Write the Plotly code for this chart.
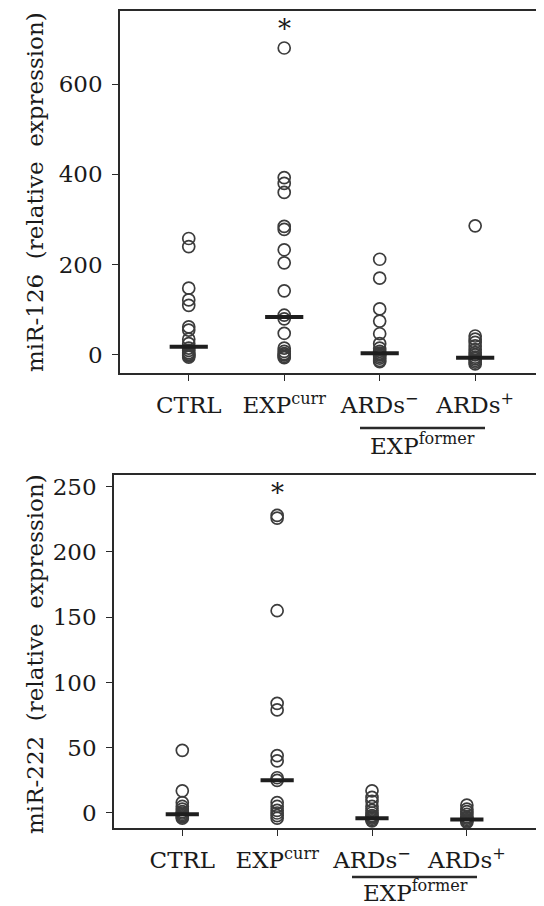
import plotly.graph_objects as go

# ---------------- data ----------------
categories = ["CTRL", "EXP<sup>curr</sup>", "ARDs<sup>−</sup>", "ARDs<sup>+</sup>"]

# miR-126 (top panel)
mir126_ctrl = [258, 240, 148, 122, 110, 62, 55, 35, 25, 15, 10, 5, 2, 0, -2, -5]
mir126_expcurr = [680, 393, 380, 360, 285, 278, 233, 204, 142, 88, 80, 48, 15, 8, 3, 0, -3, -6]
mir126_ards_neg = [212, 170, 102, 75, 47, 25, 15, 8, 4, 2, 0, -3, -7, -12, -15]
mir126_ards_pos = [286, 42, 35, 28, 20, 12, 5, 0, -5, -8, -12, -16, -20]
mir126_medians = [18, 84, 4, -6]
mir126_star = 722

# miR-222 (bottom panel)
mir222_ctrl = [48, 17, 8, 5, 3, 1, 0, -1, -2, -3, -4]
mir222_expcurr = [228, 226, 155, 84, 79, 44, 40, 27, 25, 8, 5, 2, 0, -2, -4]
mir222_ards_neg = [17, 12, 9, 5, 2, 0, -2, -3, -4, -5, -6]
mir222_ards_pos = [6, 3, 1, -1, -3, -4, -5, -6, -7]
mir222_medians = [-1, 25, -4, -5]
mir222_star = 245

mir126_ticks = [0, 200, 400, 600]
mir222_ticks = [0, 50, 100, 150, 200, 250]

# ---------------- styling ----------------
FONT = "DejaVu Serif"
INK = "#2a2a2a"
PT = "#3c3c3c"
W, H = 544, 906
OFF = 8  # default page body margin


def px(x):
    return (x - OFF) / W


def py(y):
    return 1 - (y - OFF) / H


fig = go.Figure()


def add_panel(groups, medians, xa, ya, half):
    for i, vals in enumerate(groups):
        fig.add_trace(go.Scatter(
            x=[i] * len(vals), y=vals, mode="markers",
            marker=dict(symbol="circle-open", size=12, color=PT, line=dict(width=1.7, color=PT)),
            xaxis=xa, yaxis=ya, showlegend=False, hoverinfo="y"))
    mx, my = [], []
    for i, m in enumerate(medians):
        mx += [i - half, i + half, None]
        my += [m, m, None]
    fig.add_trace(go.Scatter(x=mx, y=my, mode="lines", line=dict(color="#1e1e1e", width=4),
                             xaxis=xa, yaxis=ya, showlegend=False, hoverinfo="skip"))


add_panel([mir126_ctrl, mir126_expcurr, mir126_ards_neg, mir126_ards_pos], mir126_medians, "x", "y", 0.2)
add_panel([mir222_ctrl, mir222_expcurr, mir222_ards_neg, mir222_ards_pos], mir222_medians, "x2", "y2", 0.175)

axis_common = dict(showline=True, linecolor=INK, linewidth=1.6, mirror=True, showgrid=False,
                   zeroline=False, ticks="outside", ticklen=6, tickwidth=1.4, tickcolor=INK,
                   tickfont=dict(family=FONT, size=23, color="#1a1a1a"))

fig.update_layout(
    width=W, height=H, margin=dict(l=0, r=0, t=0, b=0),
    paper_bgcolor="white", plot_bgcolor="white",
    xaxis=dict(domain=[px(120), px(542)], range=[-0.72, 3.70], tickmode="array",
               tickvals=list(range(4)), ticktext=categories, anchor="y", ticklabelstandoff=5, **axis_common),
    yaxis=dict(domain=[py(373), py(11)], range=[-40, 762], tickmode="array",
               tickvals=mir126_ticks, anchor="x", ticklabelstandoff=5, **axis_common),
    xaxis2=dict(domain=[px(114), px(538)], range=[-0.72, 3.75], tickmode="array",
                tickvals=list(range(4)), ticktext=categories, anchor="y2", ticklabelstandoff=5, **axis_common),
    yaxis2=dict(domain=[py(828), py(475)], range=[-11.5, 259], tickmode="array",
                tickvals=mir222_ticks, anchor="x2", ticklabelstandoff=5, **axis_common),
)

title_font = dict(family=FONT, size=23, color="#1a1a1a")
txt = dict(family=FONT, size=23, color="#1a1a1a")
anns = [
    dict(text="miR-126  (relative  expression)", textangle=-90, xref="paper", yref="paper",
         x=px(35), y=py(192), xanchor="center", yanchor="middle", showarrow=False, font=title_font),
    dict(text="miR-222  (relative  expression)", textangle=-90, xref="paper", yref="paper",
         x=px(35), y=py(654), xanchor="center", yanchor="middle", showarrow=False, font=title_font),
    dict(text="*", xref="x", yref="y", x=1, y=mir126_star, xanchor="center", yanchor="middle",
         showarrow=False, font=dict(family=FONT, size=26, color="#1a1a1a")),
    dict(text="*", xref="x2", yref="y2", x=1, y=mir222_star, xanchor="center", yanchor="middle",
         showarrow=False, font=dict(family=FONT, size=26, color="#1a1a1a")),
    dict(text="EXP<sup>former</sup>", xref="paper", yref="paper", x=px(422), y=py(444),
         xanchor="center", yanchor="middle", showarrow=False, font=txt),
    dict(text="EXP<sup>former</sup>", xref="paper", yref="paper", x=px(415), y=py(891),
         xanchor="center", yanchor="middle", showarrow=False, font=txt),
]
fig.update_layout(annotations=anns)

fig.add_shape(type="line", xref="paper", yref="paper", x0=px(360), x1=px(485),
              y0=py(428), y1=py(428), line=dict(color=INK, width=2.5))
fig.add_shape(type="line", xref="paper", yref="paper", x0=px(352), x1=px(477),
              y0=py(877), y1=py(877), line=dict(color=INK, width=2.5))

fig.write_html("out.html")
